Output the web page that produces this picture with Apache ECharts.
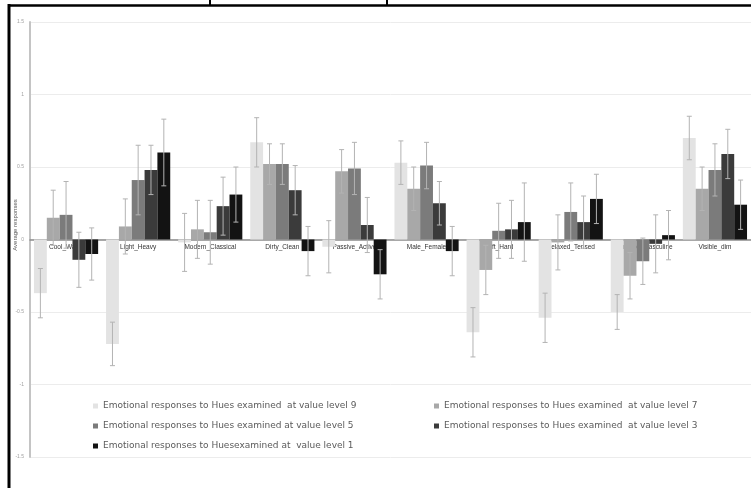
<!DOCTYPE html>
<html>
<head>
<meta charset="utf-8">
<script src="https://cdn.jsdelivr.net/npm/echarts@6/dist/echarts.min.js"></script>
<style>
  html, body { margin: 0; padding: 0; background: #ffffff; }
  #chart { width: 751px; height: 488px; }
</style>
</head>
<body>
<div id="chart"></div>
<script>
// Emotion scale pairs on the category axis
const categories = ['Cool_Warm', 'Light_Heavy', 'Modern_Classical', 'Dirty_Clean', 'Passive_Active',
  'Male_Female', 'Soft_Hard', 'Relaxed_Tensed', 'Feminine_Masculine', 'Visible_dim'];

// Legend entries, one per value level
const seriesNames = [
  'Emotional responses to Hues examined  at value level 9',
  'Emotional responses to Hues examined  at value level 7',
  'Emotional responses to Hues examined at value level 5',
  'Emotional responses to Hues examined  at value level 3',
  'Emotional responses to Huesexamined at  value level 1'
];

// Mean responses per category
const level9 = [-0.37, -0.72, -0.02, 0.67, -0.05, 0.53, -0.64, -0.54, -0.50, 0.70];
const level7 = [0.15, 0.09, 0.07, 0.52, 0.47, 0.35, -0.21, -0.02, -0.25, 0.35];
const level5 = [0.17, 0.41, 0.05, 0.52, 0.49, 0.51, 0.06, 0.19, -0.15, 0.48];
const level3 = [-0.14, 0.48, 0.23, 0.34, 0.10, 0.25, 0.07, 0.12, -0.03, 0.59];
const level1 = [-0.10, 0.60, 0.31, -0.08, -0.24, -0.08, 0.12, 0.28, 0.03, 0.24];

// Error bar half-lengths per category
const err9 = [0.17, 0.15, 0.20, 0.17, 0.18, 0.15, 0.17, 0.17, 0.12, 0.15];
const err7 = [0.19, 0.19, 0.20, 0.14, 0.15, 0.15, 0.17, 0.19, 0.16, 0.15];
const err5 = [0.23, 0.24, 0.22, 0.14, 0.18, 0.16, 0.19, 0.20, 0.16, 0.18];
const err3 = [0.19, 0.17, 0.20, 0.17, 0.19, 0.15, 0.20, 0.18, 0.20, 0.17];
const err1 = [0.18, 0.23, 0.19, 0.17, 0.17, 0.17, 0.27, 0.17, 0.17, 0.17];

// Value axis ticks
const yMin = -1.5, yMax = 1.5, yStep = 0.5;

const levels = [level9, level7, level5, level3, level1];
const errors = [err9, err7, err5, err3, err1];
const colors = ['#e3e3e3', '#a8a8a8', '#7b7b7b', '#3b3b3b', '#131313'];
const categoryGap = 0.11;

const chart = echarts.init(document.getElementById('chart'), null, { renderer: 'canvas' });

const barSeries = levels.map((vals, k) => ({
  name: seriesNames[k],
  type: 'bar',
  data: vals,
  barGap: '0%',
  barCategoryGap: (categoryGap * 100) + '%',
  itemStyle: { color: colors[k] },
  z: 2
}));

const errData = [];
levels.forEach((vals, k) => {
  vals.forEach((v, i) => errData.push([i, v, errors[k][i], k]));
});

const errorSeries = {
  type: 'custom',
  name: 'error',
  z: 4,
  silent: true,
  encode: { x: 0, y: 1 },
  data: errData,
  renderItem(params, api) {
    const i = api.value(0), v = api.value(1), e = api.value(2), k = api.value(3);
    const band = api.size([1, 0])[0];
    const bw = band * (1 - categoryGap) / levels.length;
    const dx = (k - (levels.length - 1) / 2) * bw;
    const hi = api.coord([i, v + e]);
    const lo = api.coord([i, v - e]);
    const x = hi[0] + dx;
    const cap = 2.5;
    const style = { stroke: '#b3b3b3', lineWidth: 1 };
    return {
      type: 'group',
      children: [
        { type: 'line', shape: { x1: x, y1: hi[1], x2: x, y2: lo[1] }, style },
        { type: 'line', shape: { x1: x - cap, y1: hi[1], x2: x + cap, y2: hi[1] }, style },
        { type: 'line', shape: { x1: x - cap, y1: lo[1], x2: x + cap, y2: lo[1] }, style }
      ]
    };
  }
};

// Category names sit just under the zero line, behind the bars
const labelSeries = {
  type: 'custom',
  name: 'categoryLabels',
  z: 1,
  silent: true,
  encode: { x: 0, y: 1 },
  data: categories.map((c, i) => [i, 0]),
  renderItem(params, api) {
    const p = api.coord([api.value(0), 0]);
    return {
      type: 'text',
      x: p[0], y: p[1] + 4,
      style: {
        text: categories[params.dataIndex],
        fontSize: 6.5, fill: '#333333', fontFamily: 'Liberation Sans',
        align: 'center', verticalAlign: 'top'
      }
    };
  }
};

const legendText = { color: '#5a5a5a', fontSize: 9, fontFamily: 'DejaVu Sans', lineHeight: 10 };

chart.setOption({
  backgroundColor: '#ffffff',
  animation: false,
  grid: { left: 30, right: -9, top: 22, bottom: 31, containLabel: false },
  xAxis: {
    type: 'category',
    data: categories,
    axisLine: { onZero: true, lineStyle: { color: '#8c8c8c', width: 1.5 } },
    axisTick: { show: false },
    axisLabel: { show: false },
    splitLine: { show: false }
  },
  yAxis: {
    type: 'value',
    min: yMin, max: yMax, interval: yStep,
    axisLine: { show: true, lineStyle: { color: '#c4c4c4', width: 2 } },
    axisTick: { show: false },
    axisLabel: { fontSize: 5, color: '#a0a0a0', margin: 6, fontFamily: 'Liberation Sans' },
    splitLine: { show: true, lineStyle: { color: '#ececec', width: 1 } }
  },
  legend: [
    {
      orient: 'vertical', left: 88, top: 396,
      data: [seriesNames[0], seriesNames[2], seriesNames[4]],
      icon: 'rect', itemWidth: 5, itemHeight: 5, itemGap: 10,
      textStyle: legendText
    },
    {
      orient: 'vertical', left: 429, top: 396,
      data: [seriesNames[1], seriesNames[3]],
      icon: 'rect', itemWidth: 5, itemHeight: 5, itemGap: 10,
      textStyle: legendText
    }
  ],
  graphic: [
    {
      type: 'text', x: 15, y: 225, rotation: Math.PI / 2,
      style: { text: 'Average responses', fontSize: 6, fill: '#555555', align: 'center', verticalAlign: 'middle', fontFamily: 'Liberation Sans' }
    },
    { type: 'line', shape: { x1: 9, y1: 4, x2: 9, y2: 488 }, style: { stroke: '#000000', lineWidth: 3 } },
    { type: 'line', shape: { x1: 8, y1: 5.5, x2: 751, y2: 5.5 }, style: { stroke: '#000000', lineWidth: 2.5 } },
    { type: 'line', shape: { x1: 210, y1: 0, x2: 210, y2: 5 }, style: { stroke: '#000000', lineWidth: 2 } },
    { type: 'line', shape: { x1: 387, y1: 0, x2: 387, y2: 5 }, style: { stroke: '#000000', lineWidth: 2 } }
  ],
  series: [labelSeries, ...barSeries, errorSeries]
});
</script>
</body>
</html>
